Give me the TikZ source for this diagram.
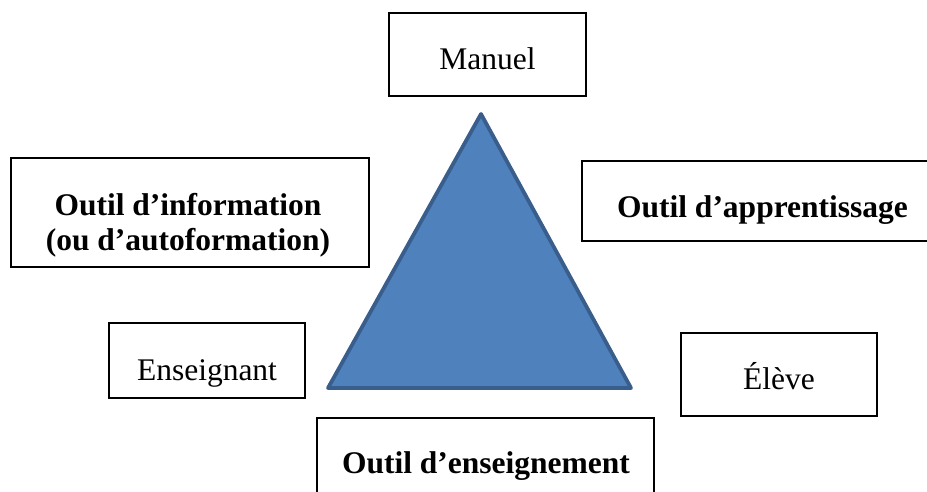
\documentclass[tikz,border=0pt]{standalone}
\usepackage{fontspec}
\setmainfont{Liberation Serif}
\begin{document}
\begin{tikzpicture}[x=1pt,y=-1pt,
  frame/.style={draw=black,line width=1.5pt,fill=white},
  lbl/.style={anchor=base,inner sep=0pt,font=\fontsize{31.5}{36}\selectfont},
  blbl/.style={lbl,font=\fontsize{31.5}{36}\selectfont\bfseries},
  tri/.style={fill=triblue,draw=triedge,line width=3.8pt,line join=round}]
\definecolor{triblue}{HTML}{4F81BD}
\definecolor{triedge}{HTML}{3A5E8C}
\clip (0,0) rectangle (927,491);
\fill[white] (0,0) rectangle (927,491);

% frames
\draw[frame] (389,13) rectangle (586,96);
\draw[frame] (11,158) rectangle (369,267);
\draw[frame] (582,161) rectangle (945,241);
\draw[frame] (109,323) rectangle (305,398);
\draw[frame] (681,333) rectangle (877,416);
\draw[frame] (317,418) rectangle (654,500);

% central triangle
\coordinate (apex) at (481,114);
\coordinate (bl) at (328,388);
\coordinate (br) at (631,388);
\draw[tri] (apex) -- (bl) -- (br) -- cycle;

% labels
\node[lbl] (manuel) at (487.5,69) {Manuel};
\node[blbl] (info1) at (188,215) {Outil d’information};
\node[blbl] (info2) at (188,250) {(ou d’autoformation)};
\node[blbl] (appr) at (762.5,217) {Outil d’apprentissage};
\node[lbl] (ens) at (207,380) {Enseignant};
\node[lbl] (eleve) at (779,389) {Élève};
\node[blbl] (enseign) at (486,473) {Outil d’enseignement};
\end{tikzpicture}
\end{document}
